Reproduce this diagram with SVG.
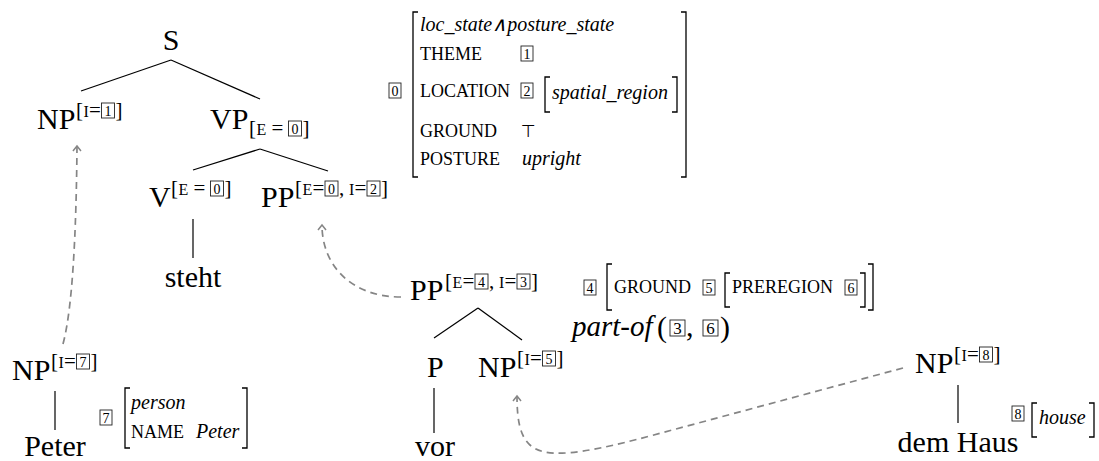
<svg xmlns="http://www.w3.org/2000/svg" width="1099" height="461" viewBox="0 0 1099 461" font-family="'Liberation Serif', serif">
  <style>
    text { font-family: 'Liberation Serif', serif; fill: #000; }
    .n  { font-size: 30px; }
    .s  { font-size: 21px; }
    .c  { font-size: 16px; }
    .d  { font-size: 14px; text-anchor: middle; }
    .dl { font-size: 17px; text-anchor: middle; }
    .sc { font-size: 18px; }
    .it { font-size: 20px; font-style: italic; }
    .pi { font-size: 29px; font-style: italic; }
    .top { font-family: 'DejaVu Sans', sans-serif; font-size: 17px; }
    rect.b { fill: none; stroke: #222; stroke-width: 0.9; }
    .br { fill: none; stroke: #000; stroke-width: 1.3; }
    .e  { stroke: #000; stroke-width: 1.2; fill: none; }
    .dash { fill: none; stroke: #858585; stroke-width: 1.7; stroke-dasharray: 7 5; }
  </style>
  <defs>
    <marker id="head" viewBox="-8 -6 10 12" markerWidth="10" markerHeight="12" refX="0" refY="0" orient="auto" markerUnits="userSpaceOnUse">
      <path d="M-5,-4 L0,0 L-5,4" fill="none" stroke="#858585" stroke-width="1.5"/>
    </marker>
  </defs>

  <!-- tree edges and co-indexing arrows -->
  <g id="connectors">
    <line class="e" x1="171" y1="60" x2="81" y2="91"/>
    <line class="e" x1="171" y1="60" x2="260" y2="99"/>
    <line class="e" x1="260" y1="149" x2="193" y2="170"/>
    <line class="e" x1="260" y1="149" x2="328" y2="171"/>
    <line class="e" x1="193" y1="219" x2="193" y2="258"/>
    <line class="e" x1="478" y1="308" x2="434" y2="338"/>
    <line class="e" x1="478" y1="308" x2="522" y2="340"/>
    <line class="e" x1="434" y1="388" x2="434" y2="433"/>
    <line class="e" x1="55" y1="391" x2="55" y2="430"/>
    <line class="e" x1="958" y1="385" x2="958" y2="423"/>
    <path class="dash" d="M63,344 C70,318 76,262 77,146" marker-end="url(#head)"/>
    <path class="dash" d="M401,297 C352,297 322,266 322,225" marker-end="url(#head)"/>
    <path class="dash" d="M903,368 L650,436 C575,456 545,458 530,445 C520,436 517,420 517,396" marker-end="url(#head)"/>
  </g>

  <g id="node-s">
    <text class="n" x="171" y="50" text-anchor="middle">S</text>
  </g>

  <g id="node-np1">
    <text class="n" x="37" y="129">NP</text>
    <text class="s" x="76" y="117">[</text>
    <text class="c" x="83.5" y="117">I</text>
    <text class="s" x="89" y="117">=</text>
    <rect class="b" x="101.5" y="103" width="13" height="15"/>
    <text class="d" x="108" y="115.5">1</text>
    <text class="s" x="115.5" y="117">]</text>
  </g>

  <g id="node-vp">
    <text class="n" x="210" y="129">VP</text>
    <text class="s" x="249" y="135">[</text>
    <text class="c" x="256.5" y="135">E</text>
    <text class="s" x="271.5" y="135">=</text>
    <rect class="b" x="288.5" y="121" width="13" height="15"/>
    <text class="d" x="295" y="133.5">0</text>
    <text class="s" x="302.5" y="135">]</text>
  </g>

  <g id="node-v">
    <text class="n" x="149" y="207">V</text>
    <text class="s" x="171" y="195">[</text>
    <text class="c" x="178.5" y="195">E</text>
    <text class="s" x="193.5" y="195">=</text>
    <rect class="b" x="210.5" y="181" width="13" height="15"/>
    <text class="d" x="217" y="193.5">0</text>
    <text class="s" x="224.5" y="195">]</text>
  </g>

  <g id="node-pp-vp">
    <text class="n" x="261" y="207">PP</text>
    <text class="s" x="295" y="195">[</text>
    <text class="c" x="302.5" y="195">E</text>
    <text class="s" x="312.5" y="195">=</text>
    <rect class="b" x="325" y="181" width="13" height="15"/>
    <text class="d" x="331.5" y="193.5">0</text>
    <text class="s" x="339" y="195">,</text>
    <text class="c" x="349" y="195">I</text>
    <text class="s" x="354.5" y="195">=</text>
    <rect class="b" x="367" y="181" width="13" height="15"/>
    <text class="d" x="373.5" y="193.5">2</text>
    <text class="s" x="381" y="195">]</text>
  </g>

  <g id="node-steht">
    <text class="n" x="193" y="287" text-anchor="middle">steht</text>
  </g>

  <g id="node-pp">
    <text class="n" x="410" y="300">PP</text>
    <text class="s" x="445" y="288">[</text>
    <text class="c" x="452.5" y="288">E</text>
    <text class="s" x="462.5" y="288">=</text>
    <rect class="b" x="475" y="274" width="13" height="15"/>
    <text class="d" x="481.5" y="286.5">4</text>
    <text class="s" x="489" y="288">,</text>
    <text class="c" x="499" y="288">I</text>
    <text class="s" x="504.5" y="288">=</text>
    <rect class="b" x="517" y="274" width="13" height="15"/>
    <text class="d" x="523.5" y="286.5">3</text>
    <text class="s" x="531" y="288">]</text>
  </g>

  <g id="node-p">
    <text class="n" x="427" y="377">P</text>
  </g>

  <g id="node-vor">
    <text class="n" x="435" y="456" text-anchor="middle">vor</text>
  </g>

  <g id="node-np5">
    <text class="n" x="478" y="377">NP</text>
    <text class="s" x="517" y="365">[</text>
    <text class="c" x="524.5" y="365">I</text>
    <text class="s" x="530" y="365">=</text>
    <rect class="b" x="542.5" y="351" width="13" height="15"/>
    <text class="d" x="549" y="363.5">5</text>
    <text class="s" x="556.5" y="365">]</text>
  </g>

  <g id="node-np7">
    <text class="n" x="12" y="380">NP</text>
    <text class="s" x="51" y="368">[</text>
    <text class="c" x="58.5" y="368">I</text>
    <text class="s" x="64" y="368">=</text>
    <rect class="b" x="76.5" y="354" width="13" height="15"/>
    <text class="d" x="83" y="366.5">7</text>
    <text class="s" x="90.5" y="368">]</text>
  </g>

  <g id="node-peter">
    <text class="n" x="55" y="456" text-anchor="middle">Peter</text>
  </g>

  <g id="node-np8">
    <text class="n" x="915" y="373">NP</text>
    <text class="s" x="954" y="361">[</text>
    <text class="c" x="961.5" y="361">I</text>
    <text class="s" x="967" y="361">=</text>
    <rect class="b" x="979.5" y="347" width="13" height="15"/>
    <text class="d" x="986" y="359.5">8</text>
    <text class="s" x="993.5" y="361">]</text>
  </g>

  <g id="node-dem-haus">
    <text class="n" x="958" y="452" text-anchor="middle">dem Haus</text>
  </g>

  <!-- feature structure for the VP event -->
  <g id="avm-0">
    <rect class="b" x="389" y="83" width="12" height="15"/>
    <text class="d" x="395" y="95.5">0</text>
    <path class="br" d="M418,12 H413 V177 H418"/>
    <path class="br" d="M681,12 H686 V177 H681"/>
    <text class="it" x="420" y="31">loc_state∧posture_state</text>
    <text class="sc" x="420" y="60">THEME</text>
    <rect class="b" x="521" y="46" width="12" height="15"/>
    <text class="d" x="527" y="58.5">1</text>
    <text class="sc" x="420" y="97">LOCATION</text>
    <rect class="b" x="521" y="83" width="12" height="15"/>
    <text class="d" x="527" y="95.5">2</text>
    <path class="br" d="M550,77 H545 V112 H550"/>
    <text class="it" x="552" y="99">spatial_region</text>
    <path class="br" d="M672,77 H677 V112 H672"/>
    <text class="sc" x="420" y="137">GROUND</text>
    <text class="top" x="521" y="137">⊤</text>
    <text class="sc" x="420" y="165">POSTURE</text>
    <text class="it" x="522" y="165">upright</text>
  </g>

  <!-- feature structure for the PP -->
  <g id="avm-4">
    <rect class="b" x="584" y="280" width="12" height="15"/>
    <text class="d" x="590" y="292.5">4</text>
    <path class="br" d="M612,264 H607 V310 H612"/>
    <text class="sc" x="614" y="293">GROUND</text>
    <rect class="b" x="703" y="280" width="12" height="15"/>
    <text class="d" x="709" y="292.5">5</text>
    <path class="br" d="M730,273 H725 V307 H730"/>
    <text class="sc" x="732" y="293">PREREGION</text>
    <rect class="b" x="845" y="280" width="12" height="15"/>
    <text class="d" x="851" y="292.5">6</text>
    <path class="br" d="M860,273 H865 V307 H860"/>
    <path class="br" d="M868,264 H873 V310 H868"/>
    <text class="pi" x="572" y="336">part-of</text>
    <text class="n" x="657" y="337">(</text>
    <rect class="b" x="670" y="320" width="15" height="16"/>
    <text class="dl" x="677.5" y="333.5">3</text>
    <text class="n" x="686" y="336">,</text>
    <rect class="b" x="703" y="320" width="15" height="16"/>
    <text class="dl" x="710.5" y="333.5">6</text>
    <text class="n" x="720" y="337">)</text>
  </g>

  <!-- feature structure for Peter -->
  <g id="avm-7">
    <rect class="b" x="100" y="410" width="12" height="15"/>
    <text class="d" x="106" y="422.5">7</text>
    <path class="br" d="M130,388 H125 V448 H130"/>
    <text class="it" x="131" y="409">person</text>
    <text class="sc" x="131" y="438">NAME</text>
    <text class="it" x="196" y="438">Peter</text>
    <path class="br" d="M242,388 H247 V448 H242"/>
  </g>

  <!-- feature structure for the house -->
  <g id="avm-8">
    <rect class="b" x="1012" y="406" width="12" height="15"/>
    <text class="d" x="1018" y="418.5">8</text>
    <path class="br" d="M1037,403 H1032 V437 H1037"/>
    <text class="it" x="1039" y="424">house</text>
    <path class="br" d="M1089,403 H1094 V437 H1089"/>
  </g>
</svg>
